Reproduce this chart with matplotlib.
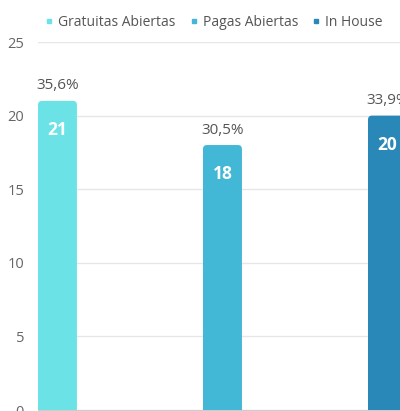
import matplotlib
matplotlib.use('Agg')
import matplotlib.pyplot as plt
from matplotlib.patches import FancyBboxPatch

categorias = ['Gratuitas Abiertas', 'Pagas Abiertas', 'In House']
valores = [21, 18, 20]
porcentajes = ['35,6%', '30,5%', '33,9%']
colores = ['#6be3e6', '#42b7d6', '#2a88b8']
yticks = [0, 5, 10, 15, 20, 25]

plt.rcParams['font.family'] = ['Open Sans', 'DejaVu Sans']

fig = plt.figure(figsize=(4, 4.11), dpi=100)
ax = fig.add_axes([38 / 400, 1 / 411, 362 / 400, 368 / 411])

ancho = 0.236
# px por unidad
px_x = 165.0
px_y = 368.0 / 25
ax.set_xlim(-ancho / 2, -ancho / 2 + 362 / px_x)
ax.set_ylim(0, 25)
for i, (v, c) in enumerate(zip(valores, colores)):
    barra = FancyBboxPatch((i - ancho / 2, -2), ancho, v + 2,
                           boxstyle='round,pad=0,rounding_size=%f' % (4 / px_x),
                           mutation_aspect=px_x / px_y,
                           facecolor=c, edgecolor='none', zorder=3)
    ax.add_patch(barra)
    ax.text(i, v + 15 / px_y, porcentajes[i], ha='center', va='center',
            fontsize=11, color='#555555', zorder=4)
    ax.text(i, v - 29 / px_y, str(v), ha='center', va='center',
            fontsize=12.5, fontweight='bold', color='white', zorder=4)

ax.set_yticks(yticks)
ax.set_xticks([])
ax.grid(axis='y', color='#e6e6e6', linewidth=1, zorder=0)
ax.tick_params(axis='y', length=0, labelsize=10.5, labelcolor='#666666', pad=10)
for s in ['top', 'right', 'left']:
    ax.spines[s].set_visible(False)
ax.spines['bottom'].set_color('#cccccc')

# leyenda
handles = [plt.Line2D([], [], marker='s', linestyle='none', markersize=3,
                      color=c) for c in colores]
fig.legend(handles, categorias, loc='center', bbox_to_anchor=(0.535, 1 - 22 / 411),
           ncol=3, frameon=False, fontsize=10, handlelength=0.6,
           handletextpad=0.35, columnspacing=1.0, labelcolor='#555555')

fig.savefig('out.png', dpi=100)
